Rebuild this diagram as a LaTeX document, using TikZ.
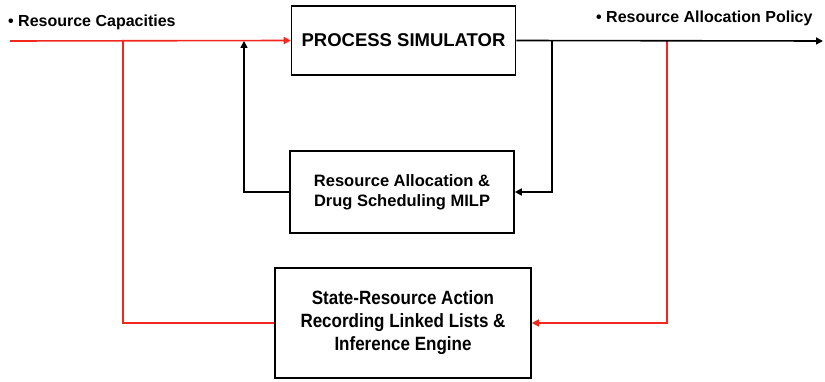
\documentclass[tikz,border=0pt]{standalone}
\usepackage{fontspec}
\usepackage{graphicx}
\setmainfont{Liberation Sans}
\usetikzlibrary{arrows.meta}
\definecolor{flowred}{RGB}{240,40,30}
\begin{document}
\begin{tikzpicture}[x=1pt,y=-1pt,
  blk/.style={draw=black,line width=1.6pt,fill=white,font=\bfseries,align=center,inner sep=0pt},
  redline/.style={draw=flowred,line width=1.6pt},
  blkline/.style={draw=black,line width=1.6pt},
  tip/.style={-{Triangle[length=7pt,width=7pt]}},
  lbl/.style={font=\bfseries\fontsize{16}{18}\selectfont,anchor=west,inner sep=0pt}]
\useasboundingbox (0,0) rectangle (825,382);
% blocks
\node[blk,minimum width=224pt,minimum height=69pt,font=\bfseries\fontsize{18.5}{20}\selectfont] (sim) at (403.5,40.5) {PROCESS SIMULATOR};
\node[blk,minimum width=224pt,minimum height=82pt,font=\bfseries\fontsize{16.5}{20}\selectfont] (milp) at (402,192) {Resource Allocation \&\\Drug Scheduling MILP};
\node[blk,minimum width=256pt,minimum height=110pt,font=\bfseries\fontsize{17}{20}\selectfont] (eng) at (403,323)
  {\raisebox{-2pt}{\scalebox{1}[1.13]{\begin{tabular}{@{}c@{}}State-Resource Action\\Recording Linked Lists \&\\Inference Engine\end{tabular}}}};
% labels
\node[lbl] (capl) at (8,22) {\textbullet\ Resource Capacities};
\node[lbl] (poll) at (596,18) {\textbullet\ Resource Allocation Policy};
% junction points
\coordinate (in) at (10,41);
\coordinate (out) at (823,41);
\coordinate (jr) at (123,41);
\coordinate (jf) at (244,41);
\coordinate (jm) at (552,41);
\coordinate (jp) at (667,41);
% red paths
\draw[redline,tip] (in) -- (sim.west);
\draw[redline] (jr) |- (eng.west);
\draw[redline,tip] (jp) |- (eng.east);
% black paths
\draw[blkline,tip] (sim.east) -- (out);
\draw[blkline,tip] (jm) |- (milp.east);
\draw[blkline,tip] (milp.west) -| (jf);
\end{tikzpicture}
\end{document}
